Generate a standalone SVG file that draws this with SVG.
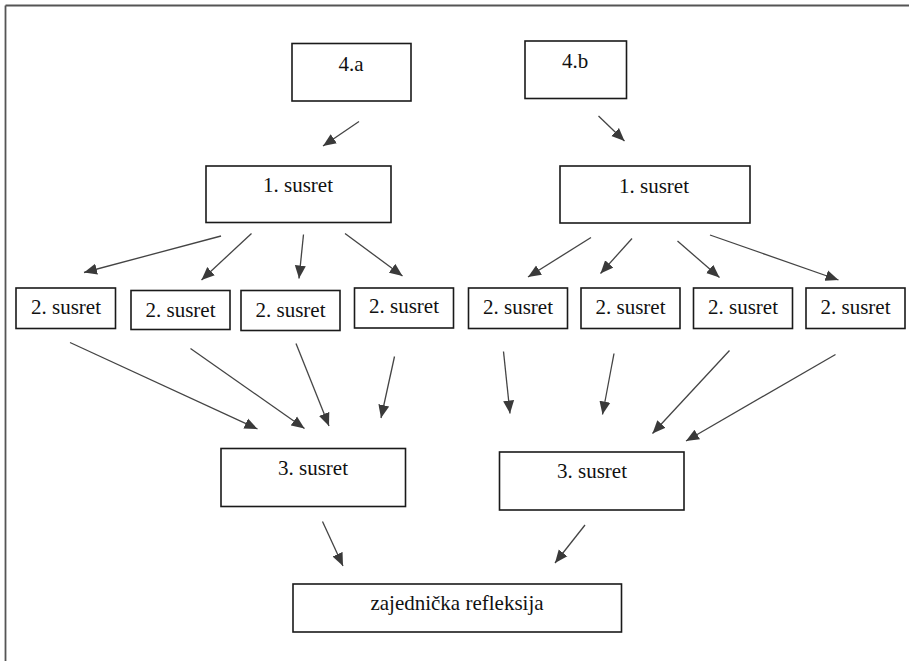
<svg xmlns="http://www.w3.org/2000/svg" width="909" height="661" viewBox="0 0 909 661">
<style>
.box{fill:#fff;stroke:#1a1a1a;stroke-width:1.6}
.c line{stroke:#444;stroke-width:1.3}
text{font-family:"Liberation Serif",serif;font-size:21px;fill:#111;text-anchor:middle}
</style>
<defs>
<marker id="ah" markerUnits="userSpaceOnUse" markerWidth="14" markerHeight="12" viewBox="0 0 14 12" refX="13" refY="6" orient="auto">
<path d="M0,0.5 L13,6 L0,11.5 Z" fill="#3a3a3a"/>
</marker>
</defs>
<rect width="909" height="661" fill="#fff"/>
<g id="frame" stroke="#555" stroke-width="1.8">
<line x1="5.5" y1="5.5" x2="909" y2="5.5"/>
<line x1="5.5" y1="5.5" x2="5.5" y2="661"/>
</g>
<g id="n4a"><rect class="box" x="292" y="43.5" width="119" height="57.5"/><text x="351" y="71" font-family="Liberation Serif" font-size="21">4.a</text></g>
<g id="n4b"><rect class="box" x="525" y="41" width="101.5" height="57.5"/><text x="575" y="68" font-family="Liberation Serif" font-size="21">4.b</text></g>
<g id="n1a"><rect class="box" x="206" y="166" width="185" height="56.5"/><text x="298" y="192" font-family="Liberation Serif" font-size="21">1. susret</text></g>
<g id="n1b"><rect class="box" x="560" y="166" width="190" height="57"/><text x="654" y="192.5" font-family="Liberation Serif" font-size="21">1. susret</text></g>
<g id="n2a1"><rect class="box" x="16" y="288" width="99.5" height="40.5"/><text x="66" y="314" font-family="Liberation Serif" font-size="21">2. susret</text></g>
<g id="n2a2"><rect class="box" x="131" y="290.5" width="99" height="39"/><text x="180.5" y="317" font-family="Liberation Serif" font-size="21">2. susret</text></g>
<g id="n2a3"><rect class="box" x="241" y="290.5" width="99" height="40"/><text x="290.5" y="317" font-family="Liberation Serif" font-size="21">2. susret</text></g>
<g id="n2a4"><rect class="box" x="354.5" y="288" width="99" height="40"/><text x="404" y="313" font-family="Liberation Serif" font-size="21">2. susret</text></g>
<g id="n2b1"><rect class="box" x="468.5" y="288" width="99" height="40.5"/><text x="518" y="313.5" font-family="Liberation Serif" font-size="21">2. susret</text></g>
<g id="n2b2"><rect class="box" x="581" y="288" width="99" height="40.5"/><text x="630.5" y="313.5" font-family="Liberation Serif" font-size="21">2. susret</text></g>
<g id="n2b3"><rect class="box" x="693.5" y="288" width="99" height="40.5"/><text x="743" y="313.5" font-family="Liberation Serif" font-size="21">2. susret</text></g>
<g id="n2b4"><rect class="box" x="806" y="288" width="99" height="40.5"/><text x="855.5" y="313.5" font-family="Liberation Serif" font-size="21">2. susret</text></g>
<g id="n3a"><rect class="box" x="221" y="448.5" width="184.5" height="58"/><text x="313" y="475" font-family="Liberation Serif" font-size="21">3. susret</text></g>
<g id="n3b"><rect class="box" x="499.5" y="452" width="184.5" height="58"/><text x="592" y="477.5" font-family="Liberation Serif" font-size="21">3. susret</text></g>
<g id="nz"><rect class="box" x="293" y="584" width="328.5" height="48"/><text x="457" y="610" font-family="Liberation Serif" font-size="21">zajednička refleksija</text></g>
<g id="connectors" class="c">
<line x1="359" y1="121.5" x2="323" y2="146" marker-end="url(#ah)"/>
<line x1="598.5" y1="116" x2="624.5" y2="141" marker-end="url(#ah)"/>
<line x1="221" y1="236" x2="84" y2="272.5" marker-end="url(#ah)"/>
<line x1="251.5" y1="233.5" x2="201.5" y2="280" marker-end="url(#ah)"/>
<line x1="303.5" y1="234.5" x2="299" y2="278.5" marker-end="url(#ah)"/>
<line x1="345" y1="233.5" x2="402.5" y2="276" marker-end="url(#ah)"/>
<line x1="591" y1="237.5" x2="528" y2="277" marker-end="url(#ah)"/>
<line x1="632" y1="238.5" x2="600.5" y2="273.5" marker-end="url(#ah)"/>
<line x1="677.5" y1="241" x2="719.5" y2="277.5" marker-end="url(#ah)"/>
<line x1="710" y1="235" x2="838.5" y2="280" marker-end="url(#ah)"/>
<line x1="70" y1="342.5" x2="257.5" y2="429" marker-end="url(#ah)"/>
<line x1="190.5" y1="348.5" x2="304.5" y2="428.5" marker-end="url(#ah)"/>
<line x1="296" y1="343.5" x2="329" y2="426" marker-end="url(#ah)"/>
<line x1="394.5" y1="356.5" x2="381" y2="418" marker-end="url(#ah)"/>
<line x1="503.5" y1="351.5" x2="510" y2="413.5" marker-end="url(#ah)"/>
<line x1="614" y1="353.5" x2="602.5" y2="414.5" marker-end="url(#ah)"/>
<line x1="729.5" y1="350.5" x2="652.5" y2="433.5" marker-end="url(#ah)"/>
<line x1="835.5" y1="354.5" x2="686" y2="441" marker-end="url(#ah)"/>
<line x1="322.5" y1="521.5" x2="343" y2="566" marker-end="url(#ah)"/>
<line x1="585" y1="525" x2="555" y2="563" marker-end="url(#ah)"/>
</g>
</svg>
